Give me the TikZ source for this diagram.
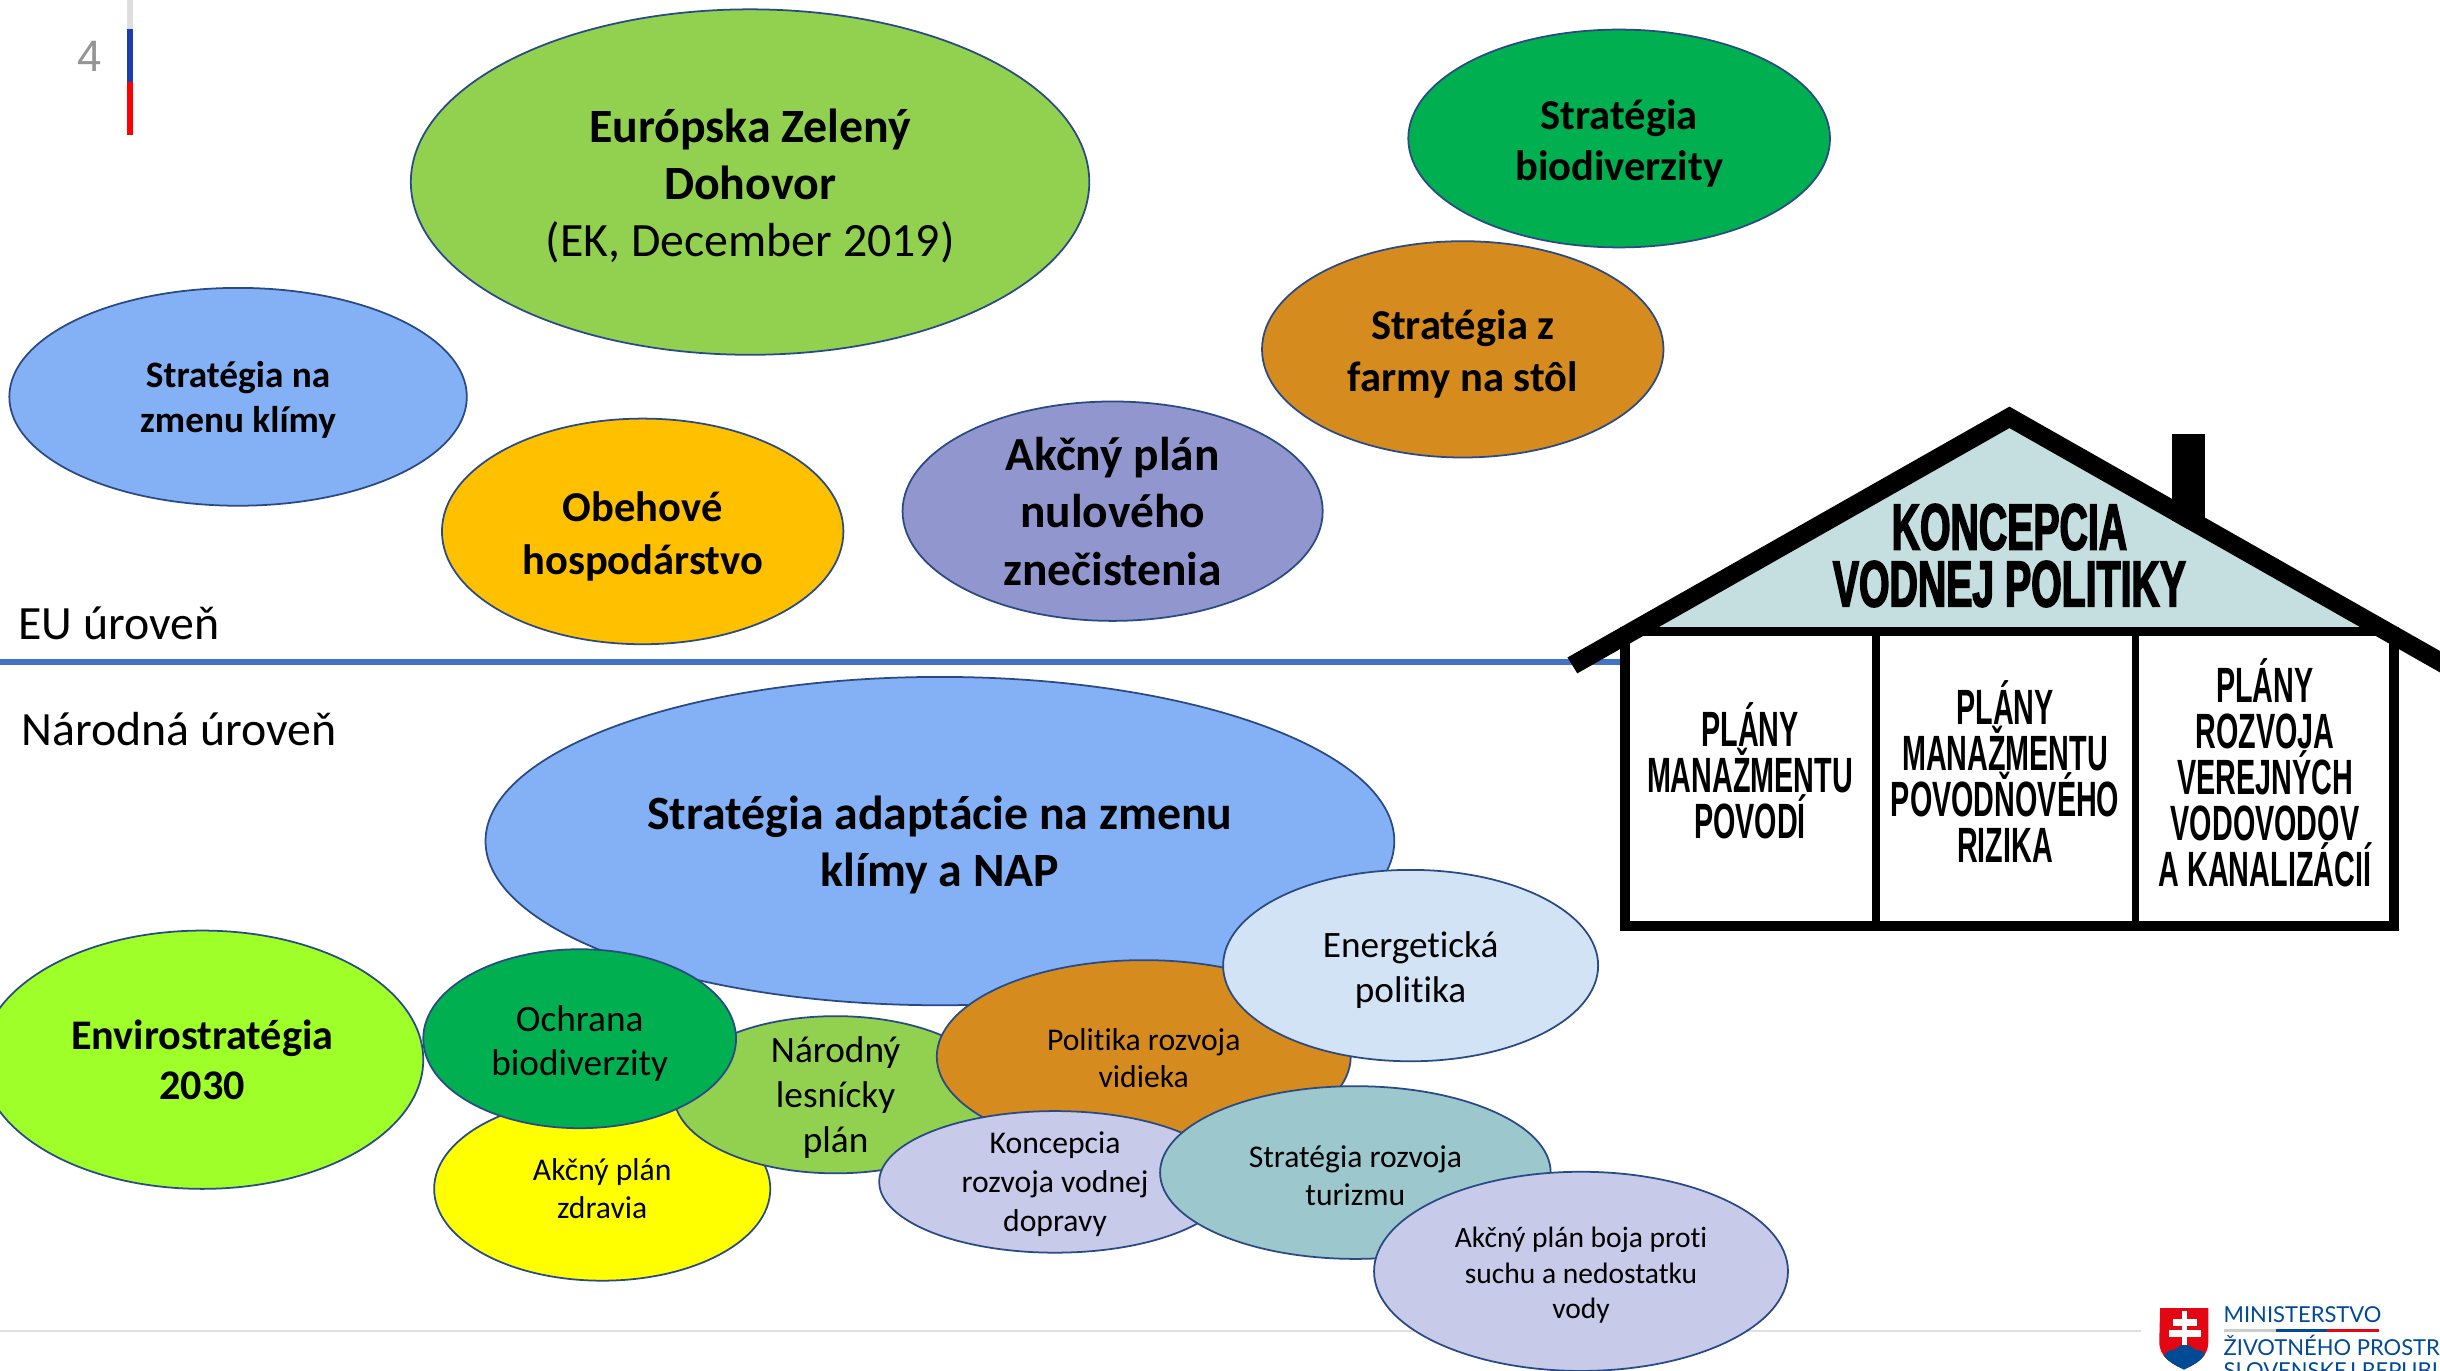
\documentclass[tikz,border=0pt]{standalone}
\usepackage{fontspec}
\setmainfont{Carlito}[Ligatures=NoCommon]
\newfontfamily\housefont{Liberation Sans}[FakeStretch=0.58]
\newfontfamily\househead{Liberation Sans}[FakeStretch=0.6,FakeBold=2.2]
\newfontfamily\numfont{Liberation Sans}
\newfontfamily\logofont{Lato}
\usetikzlibrary{shapes.geometric}
\newcommand\fsz[2]{\fontsize{#1pt}{#2pt}\selectfont}
\definecolor{lineblue}{HTML}{2A4A85}
\definecolor{levelblue}{HTML}{4472C4}
\definecolor{barblue}{HTML}{1F3BB0}
\definecolor{cgreen}{HTML}{92D050}
\definecolor{cdgreen}{HTML}{00B050}
\definecolor{cbrown}{HTML}{D68B1F}
\definecolor{csky}{HTML}{84B0F5}
\definecolor{corange}{HTML}{FFC000}
\definecolor{cviolet}{HTML}{9296CF}
\definecolor{clime}{HTML}{9EFF29}
\definecolor{cyell}{HTML}{FFFF00}
\definecolor{cpale}{HTML}{D2E3F6}
\definecolor{clav}{HTML}{C7CAE8}
\definecolor{cteal}{HTML}{9BC7CD}
\definecolor{croof}{HTML}{C5DEDF}
\definecolor{logoblue}{HTML}{004A96}
\definecolor{logored}{HTML}{E30613}
\tikzset{
  blob/.style n args={3}{ellipse,draw=lineblue,line width=0.5pt,fill=#3,inner sep=0pt,
    minimum width=2*#1*0.4426pt,minimum height=2*#2*0.4426pt},
  blobtext/.style={align=center,inner sep=0pt,text=black},
  roomtext/.style={font=\housefont\bfseries\fsz{14.1}{13.05},align=center,inner sep=0pt},
  headtext/.style={font=\househead\bfseries\fsz{18.6}{16.2},align=center,inner sep=0pt},
  leveltext/.style={font=\fsz{13.6}{15},anchor=base west,inner sep=0pt},
  logotext/.style={font=\logofont\fsz{6.25}{8},text=logoblue,anchor=base west,inner sep=0pt},
}
% name, x, y, rx, ry, fill, font, text dy, text
\newcommand\blobnode[9]{%
  \node[blob={#4}{#5}{#6}] (#1) at (#2,#3) {};
  \node[blobtext,font=#7,yshift=-#8*0.4426pt] (#1t) at (#1.center) {#9};
}
\begin{document}
\begin{tikzpicture}[x=0.4426pt,y=-0.4426pt]
\useasboundingbox (0,0) rectangle (1568,881);
\clip (0,0) rectangle (1568,881);
\fill[white] (0,0) rectangle (1568,881);
% page mark
\fill[black!13] (81.6,0) rectangle (85.5,18.6);
\fill[barblue] (81.6,18.6) rectangle (85.5,52.5);
\fill[red] (81.6,52.5) rectangle (85.5,86.8);
\node[font=\numfont\fsz{12.5}{14},text=black!42,inner sep=0pt] (pagenum) at (57.5,36) {4};
% footer rule
\draw[black!12,line width=0.45pt] (0,855.5) -- (1376,855.5);
% level line
\draw[levelblue,line width=1.6pt] (0,425.5) -- (1041.2,425.5);
\node[leveltext] (eu) at (11.5,411) {EU úroveň};
\node[leveltext] (nat) at (13.5,479) {Národná úroveň};
% EU ellipses
\blobnode{deal}{482}{117}{218}{111}{cgreen}{\fsz{13.6}{16.3}}{2.5}{\textbf{Európska Zelený}\\\textbf{Dohovor}\\(EK, December 2019)}
\blobnode{bio}{1040.5}{89}{135.5}{70}{cdgreen}{\bfseries\fsz{12.1}{14.6}}{3}{Stratégia\\biodiverzity}
\blobnode{farm}{940}{224.5}{129}{69.5}{cbrown}{\bfseries\fsz{12.1}{14.6}}{3}{Stratégia z\\farmy na stôl}
\blobnode{clim}{153}{255}{147}{70}{csky}{\bfseries\fsz{10.6}{12.9}}{2}{Stratégia na\\zmenu klímy}
\blobnode{circ}{413}{341.5}{129}{72.5}{corange}{\bfseries\fsz{12.1}{15}}{3}{Obehové\\hospodárstvo}
\blobnode{zero}{715}{328.5}{135}{70.5}{cviolet}{\bfseries\fsz{13.5}{16.4}}{0}{Akčný plán\\nulového\\znečistenia}
% national ellipses
\blobnode{nap}{604}{540.5}{292}{105.5}{csky}{\bfseries\fsz{13.6}{16.1}}{2.5}{Stratégia adaptácie na zmenu\\klímy a NAP}
\blobnode{env}{130}{681}{142}{83}{clime}{\bfseries\fsz{12}{14.4}}{0}{Envirostratégia\\2030}
\blobnode{health}{387}{764}{108}{59}{cyell}{\fsz{9}{10.7}}{0}{Akčný plán\\zdravia}
\blobnode{forest}{537}{703.5}{104}{50.5}{cgreen}{\fsz{10.6}{12.8}}{2}{Národný\\lesnícky\\plán}
\blobnode{prot}{372.5}{667.5}{100.5}{57.5}{cdgreen}{\fsz{10.6}{12.4}}{3}{Ochrana\\biodiverzity}
\blobnode{rural}{735}{679}{133}{62}{cbrown}{\fsz{9}{10.7}}{1}{Politika rozvoja\\vidieka}
\blobnode{energy}{906.5}{620.5}{120.5}{61.5}{cpale}{\fsz{10.6}{12.8}}{3}{Energetická\\politika}
\blobnode{naviga}{678}{759.5}{113}{45.5}{clav}{\fsz{9}{11}}{1.5}{Koncepcia\\rozvoja vodnej\\dopravy}
\blobnode{tour}{871}{753.5}{125.5}{55.5}{cteal}{\fsz{9}{11}}{2}{Stratégia rozvoja\\turizmu}
\blobnode{drought}{1016}{817}{133}{64}{clav}{\fsz{8.4}{10}}{2.5}{Akčný plán boja proti\\suchu a nedostatku\\vody}
% house
\fill[black] (1396,278.7) rectangle (1417.1,340);
\fill[croof] (1291.3,275.1) -- (1066.3,402.8) -- (1516.3,402.8) -- cycle;
\fill[white] (1041.2,402.8) rectangle (1541.8,598);
\fill[black] (1041.2,402.8) rectangle (1541.8,409);
\fill[black] (1041.2,409) rectangle (1047.5,598);
\fill[black] (1535.5,409) rectangle (1541.8,598);
\fill[black] (1041.2,591.8) rectangle (1541.8,598);
\fill[black] (1202.8,409) rectangle (1208,591.8);
\fill[black] (1369.9,409) rectangle (1374.7,591.8);
\fill[black] (1291.3,261.3) -- (1007.3,422.5) -- (1013.6,432.7) -- (1291.3,275.1) -- (1569,432.7) -- (1575.3,422.5) -- cycle;
\node[headtext] (head) at (1291.3,357) {KONCEPCIA\\VODNEJ POLITIKY};
\node[roomtext] (room1) at (1124.6,495.5) {PLÁNY\\MANAŽMENTU\\POVODÍ};
\node[roomtext] (room2) at (1288.5,496) {PLÁNY\\MANAŽMENTU\\POVODŇOVÉHO\\RIZIKA};
\node[roomtext] (room3) at (1455.5,496.5) {PLÁNY\\ROZVOJA\\VEREJNÝCH\\VODOVODOV\\A KANALIZÁCIÍ};
% logo
\begin{scope}
\path[clip] (1388.1,840.7) -- (1419.1,840.7) -- (1419.1,862.2) .. controls (1419.1,872) and (1412,876) .. (1403.5,880) .. controls (1395,876) and (1387.6,872) .. (1387.6,862.2) -- cycle;
\fill[logored] (1385,838) rectangle (1422,882);
\fill[white] (1402,842.2) rectangle (1405.6,866);
\fill[white] (1396.2,847.8) rectangle (1412,852.1);
\fill[white] (1394,854.7) rectangle (1414.2,859.4);
\fill[logoblue] (1404.1,873) circle (8.7);
\fill[logoblue] (1396.2,873.5) circle (6);
\fill[logoblue] (1412,873.5) circle (6);
\fill[logoblue] (1385,873) rectangle (1422,882);
\end{scope}
\node[logotext] (lg1) at (1428.5,850) {MINISTERSTVO};
\fill[black!20] (1429,854) rectangle (1462.5,856);
\fill[logoblue] (1462.5,854) rectangle (1495.4,856);
\fill[logored] (1495.4,854) rectangle (1528.6,856);
\node[logotext] (lg2) at (1428.5,871) {ŽIVOTNÉHO PROSTREDIA};
\node[logotext] (lg3) at (1428.5,886) {SLOVENSKEJ REPUBLIKY};
\end{tikzpicture}
\end{document}
